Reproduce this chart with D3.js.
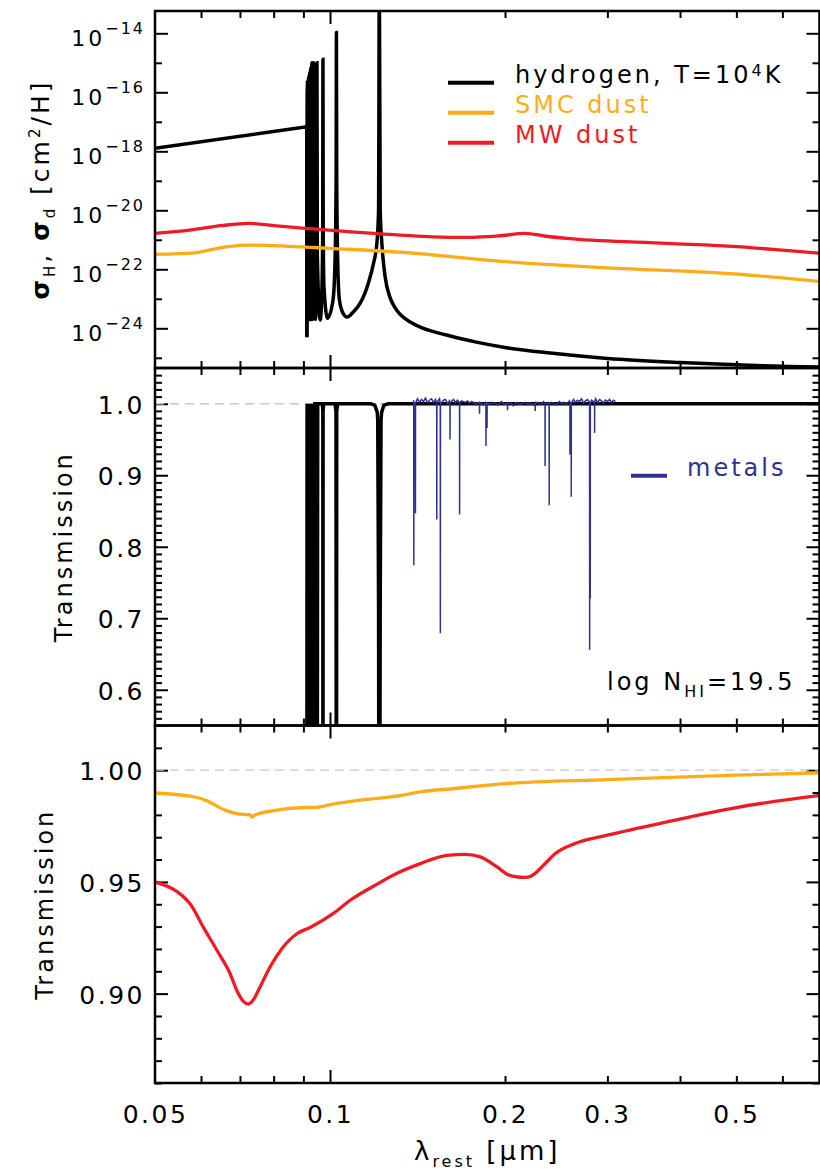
<!DOCTYPE html>
<html>
<head>
<meta charset="utf-8">
<script src="https://cdn.jsdelivr.net/npm/d3@7"></script>
<style>
body { margin: 0; background: #fff; }
svg { display: block; font-family: "DejaVu Sans", sans-serif; }
text { letter-spacing: 3px; }
</style>
</head>
<body>
<svg id="chart" width="820" height="1173"></svg>
<script>
//data: [lambda in micron, value]
//panel 1, log10 of cross section per H
//Lyman continuum up to the edge
var hydrogenEdge = [[0.0500,-17.90],[0.0912,-17.17],[0.09122,-24.30]]
//Lyman series and damping wings
var hydrogenSigma = [
  [0.09122,-24.30],[0.09130,-23.90],
  [0.09134,-15.97],[0.09136,-23.7],[0.09138,-15.84],[0.09141,-23.7],[0.09144,-15.68],[0.09148,-23.7],
  [0.09152,-15.64],[0.09157,-23.7],[0.09163,-15.60],[0.09167,-23.7],[0.09171,-15.56],[0.09176,-23.7],
  [0.09181,-15.53],[0.09187,-23.7],[0.09193,-15.47],[0.09200,-23.7],[0.09209,-15.41],[0.09220,-23.7],
  [0.09231,-15.31],[0.09246,-23.7],[0.09262,-15.18],[0.09284,-23.7],[0.09307,-15.00],[0.09340,-23.7],
  [0.09378,-15.00],[0.09440,-23.7],[0.09480,-21.5],[0.09497,-15.00],[0.09510,-21.5],[0.09620,-23.72],
  [0.09690,-22.5],[0.09715,-20.5],[0.09725,-14.88],[0.09735,-20.5],[0.09760,-22.5],[0.09900,-23.66],
  [0.10120,-23.04],[0.10195,-21.9],[0.10245,-19.0],[0.10257,-13.97],[0.10270,-19.0],[0.10314,-21.9],
  [0.10380,-23.04],[0.10530,-23.49],[0.10700,-23.62],[0.10975,-23.44],
  [0.1127,-23.15],[0.1164,-22.47],[0.1188,-21.80],[0.1204,-21.12],[0.1212,-19.99],[0.12157,-12.0],
  [0.1220,-19.99],[0.1228,-21.12],[0.1244,-22.25],[0.12692,-22.97],[0.12944,-23.31],[0.13204,-23.53],
  [0.13739,-23.79],[0.14294,-23.96],[0.15168,-24.13],[0.1610,-24.26],[0.17772,-24.46],[0.200,-24.65],
  [0.23924,-24.84],[0.300,-25.02],[0.400,-25.16],[0.500,-25.24],[0.700,-25.31]
]
var smcSigma = [[0.050,-21.49],[0.0586,-21.44],[0.0625,-21.33],[0.0668,-21.23],[0.0734,-21.18],[0.0850,-21.22],
  [0.100,-21.29],[0.132,-21.42],[0.200,-21.74],[0.300,-21.95],[0.500,-22.16],[0.600,-22.29],[0.700,-22.42]]
var mwSigma = [[0.050,-20.78],[0.0574,-20.67],[0.065,-20.52],[0.0723,-20.44],[0.080,-20.52],[0.0906,-20.61],
  [0.1216,-20.80],[0.132,-20.84],[0.150,-20.90],[0.1718,-20.92],[0.195,-20.87],[0.2167,-20.78],[0.235,-20.88],
  [0.2618,-20.97],[0.380,-21.12],[0.500,-21.23],[0.600,-21.35],[0.700,-21.46]]

//panel 2, transmission for log N_HI = 19.5
var hydrogenTrans = [
  [0.0912,0],[0.09131,1],[0.09134,0],[0.09136,1],[0.09138,0],[0.09141,1],[0.09144,0],[0.09148,1],
  [0.09152,0],[0.09157,1],[0.09163,0],[0.09167,1],[0.09171,0],[0.09176,1],[0.09181,0],[0.09187,1],
  [0.09193,0],[0.09200,1],[0.09209,0],[0.09220,1],[0.09231,0],[0.09246,1],[0.09262,0],[0.09284,1],
  [0.09307,0],[0.09340,1],[0.09378,0],[0.09420,1],[0.09470,1],[0.09497,0],[0.09525,1],
  [0.0970,1],[0.0972,0.99],[0.09725,0],[0.0973,0.99],[0.0975,1],
  [0.1020,1],[0.1024,0.99],[0.10257,0],[0.1027,0.99],[0.1031,1],
  [0.1175,1],[0.1194,0.998],[0.1206,0.988],[0.1208,0.977],[0.1212,0.72],[0.12157,0],[0.1220,0.72],
  [0.1224,0.977],[0.1227,0.988],[0.1238,0.998],[0.1260,1],[0.700,1]
]
//metal absorption lines: [centre, minimum transmission]
var metalLines = [[0.13938,0.774],[0.14028,0.847],[0.15265,0.838],[0.15482,0.679],[0.16085,0.950],
  [0.16708,0.845],[0.18080,0.986],[0.18547,0.941],[0.18628,0.966],[0.20200,0.991],[0.22540,0.990],
  [0.23441,0.913],[0.23826,0.858],[0.25869,0.929],[0.26002,0.870],[0.27964,0.656],[0.28035,0.728],
  [0.28520,0.959]]
var metalRange = [0.1392, 0.3098]
//continuum noise of the metal spectrum, in units of 0.001 above 1
var metalNoise = [
  5,1,7,2,6,3,8,1,5,7,2,6,3,7,1,5,6,0,4,3,6,2,5,1,4,3,2,4,1,3,
  2,-1,1,3,0,-2,2,1,-1,2,0,1,-2,1,3,0,-1,2,1,0,-3,1,2,-1,0,1,2,-1,1,0,-2,1,2,0,-1,3,1,0,-1,2,1,-2,1,3,0,2,-1,1,
  4,1,6,2,5,3,7,1,4,6,2,5,3,7,2,6,4,1,5,3,6,2,5,3
]

//panel 3, dust transmission
var smcTrans = [[0.050,0.9898],[0.0586,0.988],[0.0610,0.9866],[0.0665,0.9818],[0.0709,0.9802],[0.0728,0.9801],
  [0.0734,0.9790],[0.0740,0.9797],[0.0805,0.982],[0.0906,0.9833],[0.0950,0.9834],[0.1012,0.9848],
  [0.1127,0.9866],[0.132,0.9886],[0.143,0.9903],[0.164,0.9918],[0.200,0.994],[0.300,0.9958],
  [0.500,0.9978],[0.700,0.9988]]
var mwTrans = [[0.050,0.950],[0.0574,0.9403],[0.0605,0.9299],[0.0639,0.9194],[0.0673,0.909],[0.0692,0.9012],
  [0.0711,0.8963],[0.0723,0.8953],[0.0737,0.897],[0.0758,0.903],[0.0789,0.912],[0.0827,0.9202],
  [0.0878,0.9269],[0.0924,0.9296],[0.1012,0.9358],[0.1083,0.9418],[0.1196,0.9485],[0.132,0.9545],
  [0.143,0.9582],[0.1591,0.9619],[0.1708,0.9623],[0.1813,0.9612],[0.1938,0.9567],[0.2025,0.9532],
  [0.2100,0.9522],[0.2167,0.952],[0.2210,0.9524],[0.2254,0.9538],[0.2341,0.9580],[0.2441,0.9627],
  [0.264,0.9672],[0.300,0.9709],[0.380,0.9769],[0.500,0.9833],[0.700,0.9888]]

//ticks
var lamMajor = [0.1]
var lamMinor = [0.06,0.07,0.08,0.09,0.2,0.3,0.4,0.5,0.6]
var lamLabels = [0.05,0.1,0.2,0.3,0.5]
var sigMajorExp = [-24,-22,-20,-18,-16,-14]
var sigMinorExp = [-25,-23,-21,-19,-17,-15]
var t1Major = [0.6,0.7,0.8,0.9,1.0]
var t2Major = [0.90,0.95,1.00]

var colBlack = "#000", colSmc = "#fbad18", colMw = "#ed1c24", colMetal = "#2e3192"

const svg = d3.select("#chart")
const left = 155, right = 819.5
const panels = [{top: 11, bottom: 368}, {top: 368, bottom: 725.5}, {top: 725.5, bottom: 1083}]

const x = d3.scaleLog().domain([0.05, 0.695]).range([left, right])
const ySig = d3.scaleLog().domain([Math.pow(10,-25.346), Math.pow(10,-13.244)]).range([panels[0].bottom, panels[0].top])
const yT1 = d3.scaleLinear().domain([0.55, 1.05]).range([panels[1].bottom, panels[1].top])
const yT2 = d3.scaleLinear().domain([0.86, 1.02]).range([panels[2].bottom, panels[2].top])

//clip each panel
const defs = svg.append("defs")
panels.forEach(function(p, i){
  defs.append("clipPath").attr("id", "clip" + i).append("rect")
    .attr("x", left).attr("y", p.top).attr("width", right - left).attr("height", p.bottom - p.top)
})

function clean(g){
  g.select(".domain").remove()
  g.selectAll(".tick line").attr("stroke", "#000").attr("stroke-width", 2)
  g.attr("font-family", null)
}

//x ticks on top and bottom of every panel
panels.forEach(function(p){
  [[lamMajor, 13], [lamMinor, 7]].forEach(function(t){
    svg.append("g").attr("transform", `translate(0,${p.bottom})`)
      .call(d3.axisBottom(x).tickValues(t[0]).tickSize(-t[1]).tickFormat("")).call(clean)
    svg.append("g").attr("transform", `translate(0,${p.top})`)
      .call(d3.axisTop(x).tickValues(t[0]).tickSize(-t[1]).tickFormat("")).call(clean)
  })
})

function yTicks(scale, major, minor){
  [[major, 13], [minor, 7]].forEach(function(t){
    svg.append("g").attr("transform", `translate(${left},0)`)
      .call(d3.axisLeft(scale).tickValues(t[0]).tickSize(-t[1]).tickFormat("")).call(clean)
    svg.append("g").attr("transform", `translate(${right},0)`)
      .call(d3.axisRight(scale).tickValues(t[0]).tickSize(-t[1]).tickFormat("")).call(clean)
  })
}
yTicks(ySig, sigMajorExp.map(e => Math.pow(10, e)), sigMinorExp.map(e => Math.pow(10, e)))
var minor1 = d3.range(56, 105).map(v => v / 100).filter(v => Math.round(v * 100) % 10 != 0)
yTicks(yT1, t1Major, minor1)
var minor2 = d3.range(86, 103).map(v => v / 100).filter(v => Math.round(v * 100) % 5 != 0)
yTicks(yT2, t2Major, minor2)

//tick labels
svg.append("g").attr("transform", `translate(${left},0)`)
  .call(d3.axisLeft(ySig).tickValues(sigMajorExp.map(e => Math.pow(10, e))).tickSize(0).tickPadding(10))
  .call(clean)
  .call(g => g.selectAll("text").attr("font-size", 22).attr("dy", 12).text(null).each(function(d){
    var t = d3.select(this)
    t.append("tspan").text("10")
    t.append("tspan").attr("dy", -12).attr("font-size", 16).style("letter-spacing", "2px")
      .text("\u2212" + Math.abs(Math.round(Math.log10(d))))
  }))

svg.append("g").attr("transform", `translate(${left},0)`)
  .call(d3.axisLeft(yT1).tickValues(t1Major).tickSize(0).tickPadding(10).tickFormat(d3.format(".1f")))
  .call(clean).call(g => g.selectAll("text").attr("font-size", 25).attr("dy", "0.38em").style("letter-spacing", "2.5px"))
svg.append("g").attr("transform", `translate(${left},0)`)
  .call(d3.axisLeft(yT2).tickValues(t2Major).tickSize(0).tickPadding(10).tickFormat(d3.format(".2f")))
  .call(clean).call(g => g.selectAll("text").attr("font-size", 25).attr("dy", "0.38em").style("letter-spacing", "2.5px"))
svg.append("g").attr("transform", `translate(0,${panels[2].bottom})`)
  .call(d3.axisBottom(x).tickValues(lamLabels).tickSize(0).tickPadding(22).tickFormat(d => String(d)))
  .call(clean).call(g => g.selectAll("text").attr("font-size", 25).style("letter-spacing", "2.5px"))

//reference lines at T = 1
svg.append("line").attr("x1", left).attr("x2", right).attr("y1", yT1(1)).attr("y2", yT1(1))
  .attr("stroke", "#c8c8c8").attr("stroke-width", 1.3).attr("stroke-dasharray", "9,6")
svg.append("line").attr("x1", left).attr("x2", right).attr("y1", yT2(1)).attr("y2", yT2(1))
  .attr("stroke", "#c8c8c8").attr("stroke-width", 1.3).attr("stroke-dasharray", "9,6")

//panel 1 curves
const edgeLine = d3.line().x(d => x(d[0])).y(d => ySig(Math.pow(10, d[1])))
const sigLine = d3.line().x(d => x(d[0])).y(d => ySig(Math.pow(10, d[1]))).curve(d3.curveMonotoneX)
const g1 = svg.append("g").attr("clip-path", "url(#clip0)")
g1.append("path").attr("d", edgeLine(hydrogenEdge)).attr("fill", "none").attr("stroke", colBlack).attr("stroke-width", 3.5)
g1.append("path").attr("d", sigLine(hydrogenSigma)).attr("fill", "none").attr("stroke", colBlack).attr("stroke-width", 3.5)
g1.append("path").attr("d", sigLine(smcSigma)).attr("fill", "none").attr("stroke", colSmc).attr("stroke-width", 3.3)
g1.append("path").attr("d", sigLine(mwSigma)).attr("fill", "none").attr("stroke", colMw).attr("stroke-width", 3.3)

//panel 2 curves
const t1Line = d3.line().x(d => x(d[0])).y(d => yT1(d[1]))
const g2 = svg.append("g").attr("clip-path", "url(#clip1)")
g2.append("path").attr("d", t1Line(hydrogenTrans)).attr("fill", "none").attr("stroke", colBlack).attr("stroke-width", 3.5)

//build the metal spectrum from the noise samples and the line list
var metalSpec = []
var la = Math.log(metalRange[0]), lb = Math.log(metalRange[1])
metalNoise.forEach(function(v, i){
  metalSpec.push([Math.exp(la + (lb - la) * i / (metalNoise.length - 1)), 1 + v / 1000])
})
metalLines.forEach(function(l){
  metalSpec.push([l[0] - 0.00006, 1.001], [l[0], l[1]], [l[0] + 0.00006, 1.001])
})
metalSpec.sort((a, b) => a[0] - b[0])
g2.append("path").attr("d", t1Line(metalSpec)).attr("fill", "none").attr("stroke", colMetal).attr("stroke-width", 1.5)

//panel 3 curves
const t2Line = d3.line().x(d => x(d[0])).y(d => yT2(d[1])).curve(d3.curveMonotoneX)
const g3 = svg.append("g").attr("clip-path", "url(#clip2)")
g3.append("path").attr("d", t2Line(smcTrans)).attr("fill", "none").attr("stroke", colSmc).attr("stroke-width", 3.3)
g3.append("path").attr("d", t2Line(mwTrans)).attr("fill", "none").attr("stroke", colMw).attr("stroke-width", 3.3)

//frames
panels.forEach(function(p){
  svg.append("rect").attr("x", left).attr("y", p.top).attr("width", right - left).attr("height", p.bottom - p.top)
    .attr("fill", "none").attr("stroke", "#000").attr("stroke-width", 2.5)
})

//legend panel 1
var legend1 = [["hydrogen", colBlack, 82.7], ["SMC dust", colSmc, 112.7], ["MW dust", colMw, 142.7]]
legend1.forEach(function(l){
  svg.append("line").attr("x1", 448).attr("x2", 494).attr("y1", l[2]).attr("y2", l[2])
    .attr("stroke", l[1]).attr("stroke-width", 4)
  var t = svg.append("text").attr("x", 515).attr("y", l[2]).attr("font-size", 24).attr("fill", l[1])
  if (l[0] == "hydrogen") {
    t.append("tspan").text("hydrogen,  T=10")
    t.append("tspan").attr("dy", -7).attr("font-size", 16).text("4")
    t.append("tspan").attr("dy", 7).text("K")
  } else {
    t.text(l[0])
  }
})

//legend panel 2
svg.append("line").attr("x1", 631).attr("x2", 667).attr("y1", 475.7).attr("y2", 475.7)
  .attr("stroke", colMetal).attr("stroke-width", 4)
svg.append("text").attr("x", 687).attr("y", 476).attr("font-size", 24).attr("fill", colMetal).text("metals")

var nh = svg.append("text").attr("x", 607).attr("y", 690).attr("font-size", 24)
nh.append("tspan").text("log N")
nh.append("tspan").attr("dy", 7).attr("font-size", 16).text("HI")
nh.append("tspan").attr("dy", -7).text("=19.5")

//axis titles
var yt = svg.append("text").attr("text-anchor", "middle").attr("font-size", 25)
  .attr("transform", `translate(49,${(panels[0].top + panels[0].bottom) / 2}) rotate(-90)`)
yt.append("tspan").attr("font-weight", "bold").text("\u03c3")
yt.append("tspan").attr("dy", 6).attr("font-size", 15).text("H")
yt.append("tspan").attr("dy", -6).text(", ")
yt.append("tspan").attr("font-weight", "bold").text("\u03c3")
yt.append("tspan").attr("dy", 6).attr("font-size", 15).text("d")
yt.append("tspan").attr("dy", -6).text(" [cm")
yt.append("tspan").attr("dy", -9).attr("font-size", 15).text("2")
yt.append("tspan").attr("dy", 9).text("/H]")

svg.append("text").attr("text-anchor", "middle").attr("font-size", 24)
  .attr("transform", `translate(71.7,${(panels[1].top + panels[1].bottom) / 2}) rotate(-90)`).text("Transmission")
svg.append("text").attr("text-anchor", "middle").attr("font-size", 24)
  .attr("transform", `translate(53.3,${(panels[2].top + panels[2].bottom) / 2}) rotate(-90)`).text("Transmission")

var xt = svg.append("text").attr("text-anchor", "middle").attr("font-size", 26).attr("x", (left + right) / 2).attr("y", 1160)
xt.append("tspan").text("\u03bb")
xt.append("tspan").attr("dy", 7).attr("font-size", 16).text("rest")
xt.append("tspan").attr("dy", -7).text(" [\u03bcm]")
</script>
</body>
</html>
